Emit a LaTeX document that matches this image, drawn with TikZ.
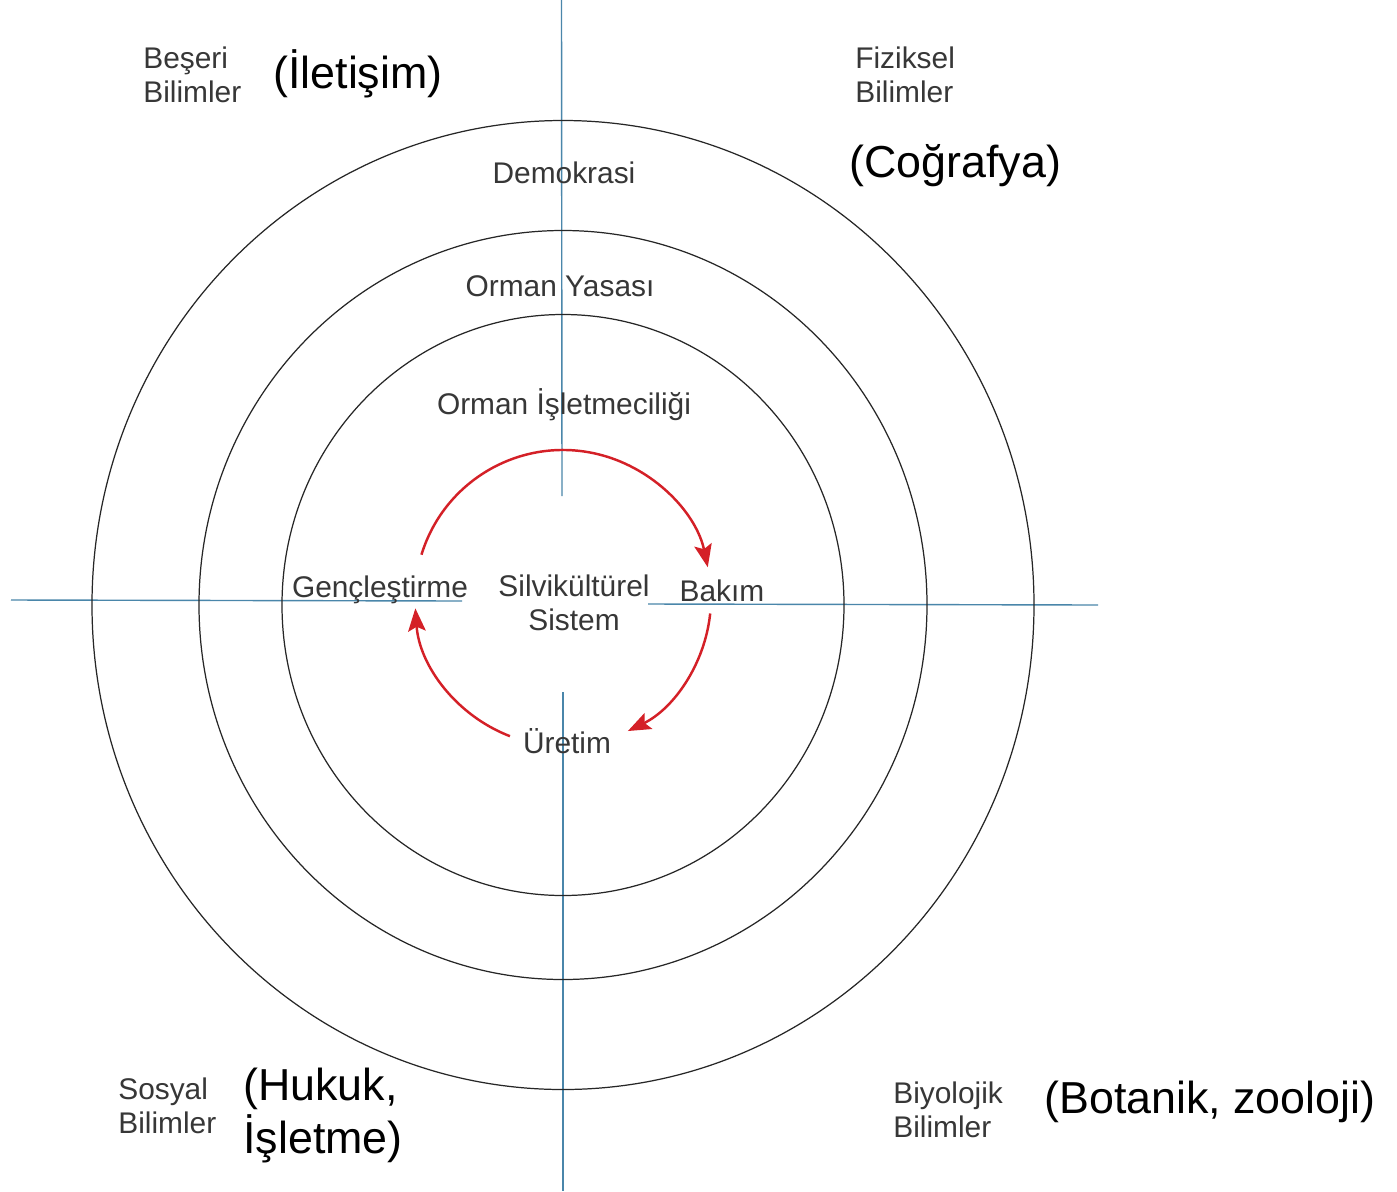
\documentclass[tikz,border=0pt]{standalone}
\usepackage{fontspec}
\setmainfont{Liberation Sans}
\usetikzlibrary{arrows.meta}

\definecolor{eksenmavi}{RGB}{74,134,170}
\definecolor{yazigri}{RGB}{55,55,55}
\definecolor{donkirmizi}{RGB}{212,32,39}

\begin{document}
\begin{tikzpicture}[x=0.02cm,y=0.02cm,
  kucuk/.style={text=yazigri,inner sep=0pt,font=\fontsize{17}{19.3}\selectfont},
  buyuk/.style={text=black,inner sep=0pt,font=\fontsize{25.5}{30}\selectfont},
  eksen/.style={draw=eksenmavi,line width=0.8pt},
  halka/.style={draw=black!85,line width=0.7pt},
  dongu/.style={draw=donkirmizi,line width=1.4pt,-{Stealth[length=13pt,width=10pt,inset=2.5pt]}}]

\useasboundingbox[fill=white] (0,0) rectangle (1397,-1191);

\coordinate (merkez) at (563,-605);
\coordinate (dmerkez) at (563,-598);

% eksenler
\draw[eksen] (11,-600) -- (462,-601);
\draw[eksen] (648,-604) -- (1098,-605);
\draw[eksen] (561.5,0) -- (562,-496);
\draw[eksen] (563,-692) -- (563,-1191);

% halkalar
\foreach \rx/\ry in {471/484.5,364/374.5,281/290.5}{
\draw[halka] (merkez) ellipse ({\rx} and {\ry});}

% dongu oklari
\draw[dongu] ([shift={(163:148)}]dmerkez) arc (163:12:148);
\draw[dongu] ([shift={(-6:148)}]dmerkez) arc (-6:-64:148);
\draw[dongu] ([shift={(-111:148)}]dmerkez) arc (-111:-176:148);

\node[kucuk,anchor=base west,align=left] (beseri) at (143,-102) {Beşeri\\Bilimler};
\node[buyuk,anchor=base west] (iletisim) at (273,-88) {(İletişim)};
\node[kucuk,anchor=base west,align=left] (fiziksel) at (855,-102) {Fiziksel\\Bilimler};
\node[buyuk,anchor=base west] (cografya) at (849,-177) {(Coğrafya)};

\node[kucuk,anchor=base] (demokrasi) at (564,-183) {Demokrasi};
\node[kucuk,anchor=base] (yasa) at (560,-296) {Orman Yasası};
\node[kucuk,anchor=base] (isletme) at (564,-414) {Orman İşletmeciliği};

\node[kucuk,anchor=base] (genc) at (380,-597) {Gençleştirme};
\node[kucuk,anchor=base,align=center] (sistem) at (574,-630) {Silvikültürel\\Sistem};
\node[kucuk,anchor=base] (bakim) at (722,-601) {Bakım};
\node[kucuk,anchor=base] (uretim) at (567,-753) {Üretim};

\node[kucuk,anchor=base west,align=left] (sosyal) at (118,-1133) {Sosyal\\Bilimler};
\node[buyuk,anchor=base west,align=left] (hukuk) at (243,-1153) {(Hukuk,\\İşletme)};
\node[kucuk,anchor=base west,align=left] (biyolojik) at (893,-1137) {Biyolojik\\Bilimler};
\node[buyuk,anchor=base west] (botanik) at (1044,-1113) {(Botanik, zooloji)};

\end{tikzpicture}
\end{document}
